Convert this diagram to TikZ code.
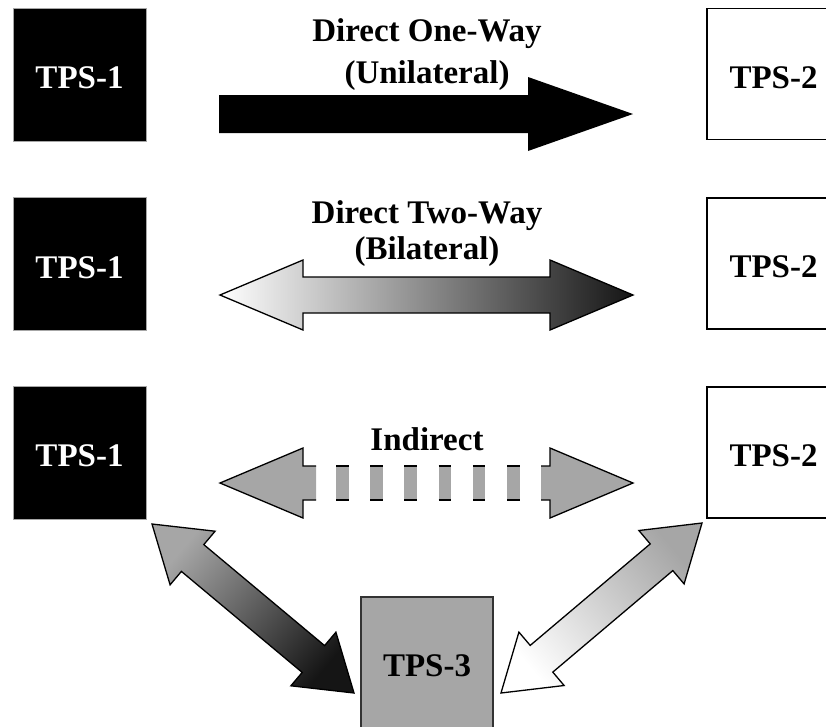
\documentclass[tikz,border=0pt]{standalone}
\usepackage{fontspec}
\setmainfont{Liberation Serif}
\definecolor{boxgray}{HTML}{A6A6A6}
\definecolor{darkend}{HTML}{151515}

\begin{document}
\begin{tikzpicture}[x=1pt,y=-1pt]
	\tikzstyle{every node}=[font=\fontsize{33}{36}\selectfont\bfseries]
	\tikzstyle{blackbox}=[rectangle,fill=black,draw=gray!70,text=white,minimum width=133pt,minimum height=133pt,inner sep=0pt,text height=28pt,text depth=0pt]
	\tikzstyle{whitebox}=[rectangle,fill=white,draw=black,line width=1.3pt,minimum width=133pt,minimum height=131pt,inner sep=0pt,text height=28pt,text depth=0pt]
	\tikzstyle{graybox}=[rectangle,fill=boxgray,draw=black!80,line width=1.2pt,minimum width=132pt,minimum height=133pt,inner sep=0pt,text height=26pt,text depth=0pt]
	\tikzstyle{arrowtext}=[align=center,inner sep=0pt]
	\tikzstyle{outline}=[draw=black,line width=1.3pt,line join=miter]
	\useasboundingbox (0,0) rectangle (826,726);
	% the systems
	\node[blackbox] (1a) at (79.5,74.5) {TPS-1};
	\node[whitebox] (2a) at (773.5,74) {TPS-2};
	\node[blackbox] (1b) at (79.5,264) {TPS-1};
	\node[whitebox] (2b) at (773.5,263.5) {TPS-2};
	\node[blackbox] (1c) at (79.5,452.5) {TPS-1};
	\node[whitebox] (2c) at (773.5,452.5) {TPS-2};
	\node[graybox] (3) at (427,663.5) {TPS-3};
	% labels
	\node[arrowtext,anchor=north] (u) at (427,18) {Direct One-Way\\[6pt](Unilateral)};
	\node[arrowtext,anchor=north] (b) at (427,200) {Direct Two-Way\\(Bilateral)};
	\node[arrowtext,anchor=base] (i) at (427,450) {Indirect};
	% one-way
	\fill[black] (219,95) -- (528,95) -- (528,77) -- (633,114) -- (528,151) -- (528,133) -- (219,133) -- cycle;
	% two-way
	\draw[outline,left color=white,right color=darkend] (220,295) -- (303,260) -- (303,277) -- (550,277) -- (550,260) -- (633,295)
		-- (550,330) -- (550,313) -- (303,313) -- (303,330) -- cycle;
	% indirect
	\fill[boxgray] (316,466) -- (303,466) -- (303,448) -- (220,483) -- (303,518) -- (303,500) -- (316,500) -- cycle;
	\draw[outline] (316,466) -- (303,466) -- (303,448) -- (220,483) -- (303,518) -- (303,500) -- (316,500);
	\fill[boxgray] (541,466) -- (550,466) -- (550,448) -- (633,483) -- (550,518) -- (550,500) -- (541,500) -- cycle;
	\draw[outline] (541,466) -- (550,466) -- (550,448) -- (633,483) -- (550,518) -- (550,500) -- (541,500);
	\foreach \k in {0,...,5}{
		\fill[boxgray] (336+34.2*\k,466) rectangle (348.5+34.2*\k,500);
		\draw[outline] (336+34.2*\k,466) -- (348.5+34.2*\k,466);
		\draw[outline] (336+34.2*\k,500) -- (348.5+34.2*\k,500);
	}
	% via TPS-3
	\draw[outline,top color=boxgray,bottom color=darkend,shading angle=50] (152,524) -- (215.1,531.2) -- (203.8,544.6) -- (324.6,645.6)
		-- (335.9,632.2) -- (354,693) -- (290.9,685.8) -- (302.2,672.4) -- (181.4,571.4) -- (170.1,584.8) -- cycle;
	\draw[outline,top color=boxgray,bottom color=white,shading angle=-50] (702,523) -- (684.1,583.9) -- (672.8,570.6) -- (552.8,672.1)
		-- (564.1,685.5) -- (501,693) -- (518.9,632.1) -- (530.2,645.4) -- (650.2,543.9) -- (638.9,530.5) -- cycle;
\end{tikzpicture}
\end{document}
